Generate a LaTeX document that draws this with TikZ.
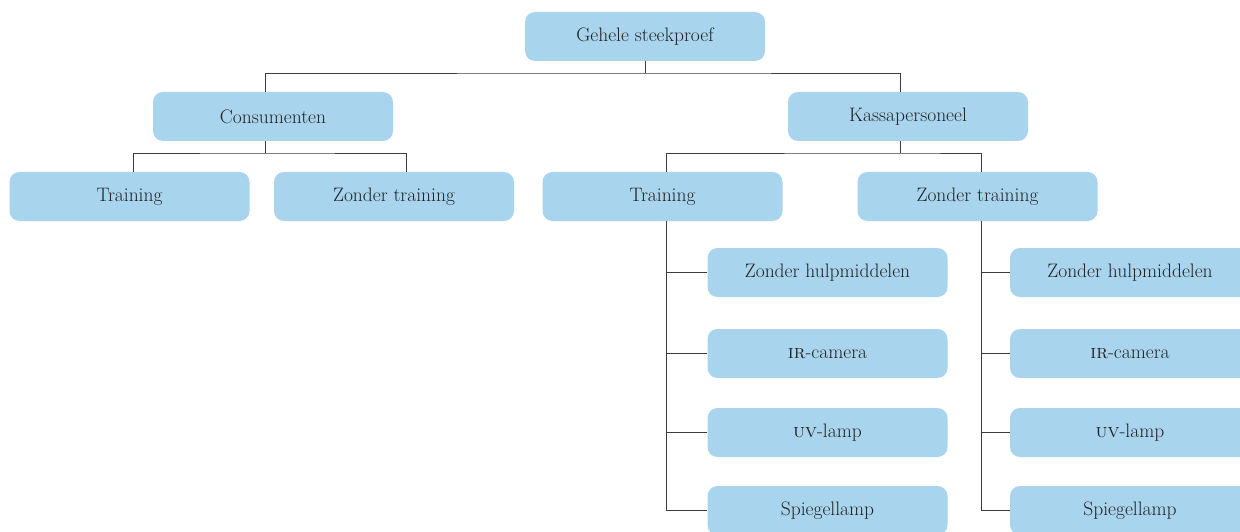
\documentclass[tikz,border=0pt]{standalone}
\usepackage{fontspec}
\definecolor{boxblue}{RGB}{168,212,238}
\definecolor{linegray}{RGB}{60,60,60}
\definecolor{textdark}{RGB}{35,35,35}
\tikzset{
  x=1pt,y=-1pt,
  box/.style={fill=boxblue, rounded corners=10pt, minimum width=240pt, minimum height=49pt, inner sep=0pt, text=textdark, font=\fontsize{19.5}{22}\selectfont},
  conn/.style={draw=linegray, line width=0.9pt}
}
\begin{document}
\begin{tikzpicture}
\useasboundingbox (0,0) rectangle (1240,532);
\clip (0,0) rectangle (1240,532);
\node[box] (g) at (645,36.5) {Gehele steekproef};
\node[box] (cons) at (273,116.5) {Consumenten};
\node[box] (kas) at (908,116.5) {Kassapersoneel};
\node[box] (ct) at (129.5,196.5) {Training};
\node[box] (cz) at (394,196.5) {Zonder training};
\node[box] (kt) at (662.5,196.5) {Training};
\node[box] (kz) at (977.5,196.5) {Zonder training};
\node[box] (a1) at (827.5,272.5) {Zonder hulpmiddelen};
\node[box] (a2) at (827.5,353.5) {\textsc{ir}-camera};
\node[box] (a3) at (827.5,432.5) {\textsc{uv}-lamp};
\node[box] (a4) at (827.5,510.5) {Spiegellamp};
\node[box] (b1) at (1130,272.5) {Zonder hulpmiddelen};
\node[box] (b2) at (1130,353.5) {\textsc{ir}-camera};
\node[box] (b3) at (1130,432.5) {\textsc{uv}-lamp};
\node[box] (b4) at (1130,510.5) {Spiegellamp};
% level 1
\coordinate (j1) at (645,73);
\draw[conn] (g.south) -- (j1);
\draw[conn] ([xshift=-8pt]cons.north) |- (j1) -| ([xshift=-8pt]kas.north);
% level 2
\coordinate (j2) at (265,153);
\draw[conn] ([xshift=-8pt]cons.south) -- (j2);
\draw[conn] ([xshift=3.5pt]ct.north) |- (j2) -| ([xshift=12pt]cz.north);
\coordinate (j3) at (900,153);
\draw[conn] ([xshift=-8pt]kas.south) -- (j3);
\draw[conn] ([xshift=3.5pt]kt.north) |- (j3) -| ([xshift=3.5pt]kz.north);
% level 3
\draw[conn] ([xshift=3.5pt]kt.south) |- (a4.west);
\foreach \n in {a1,a2,a3}{
  \draw[conn] (\n.west) -- ([xshift=3.5pt]\n.west -| kt.south);
}
\draw[conn] ([xshift=3.5pt]kz.south) |- (b4.west);
\foreach \n in {b1,b2,b3}{
  \draw[conn] (\n.west) -- ([xshift=3.5pt]\n.west -| kz.south);
}
\end{tikzpicture}
\end{document}
